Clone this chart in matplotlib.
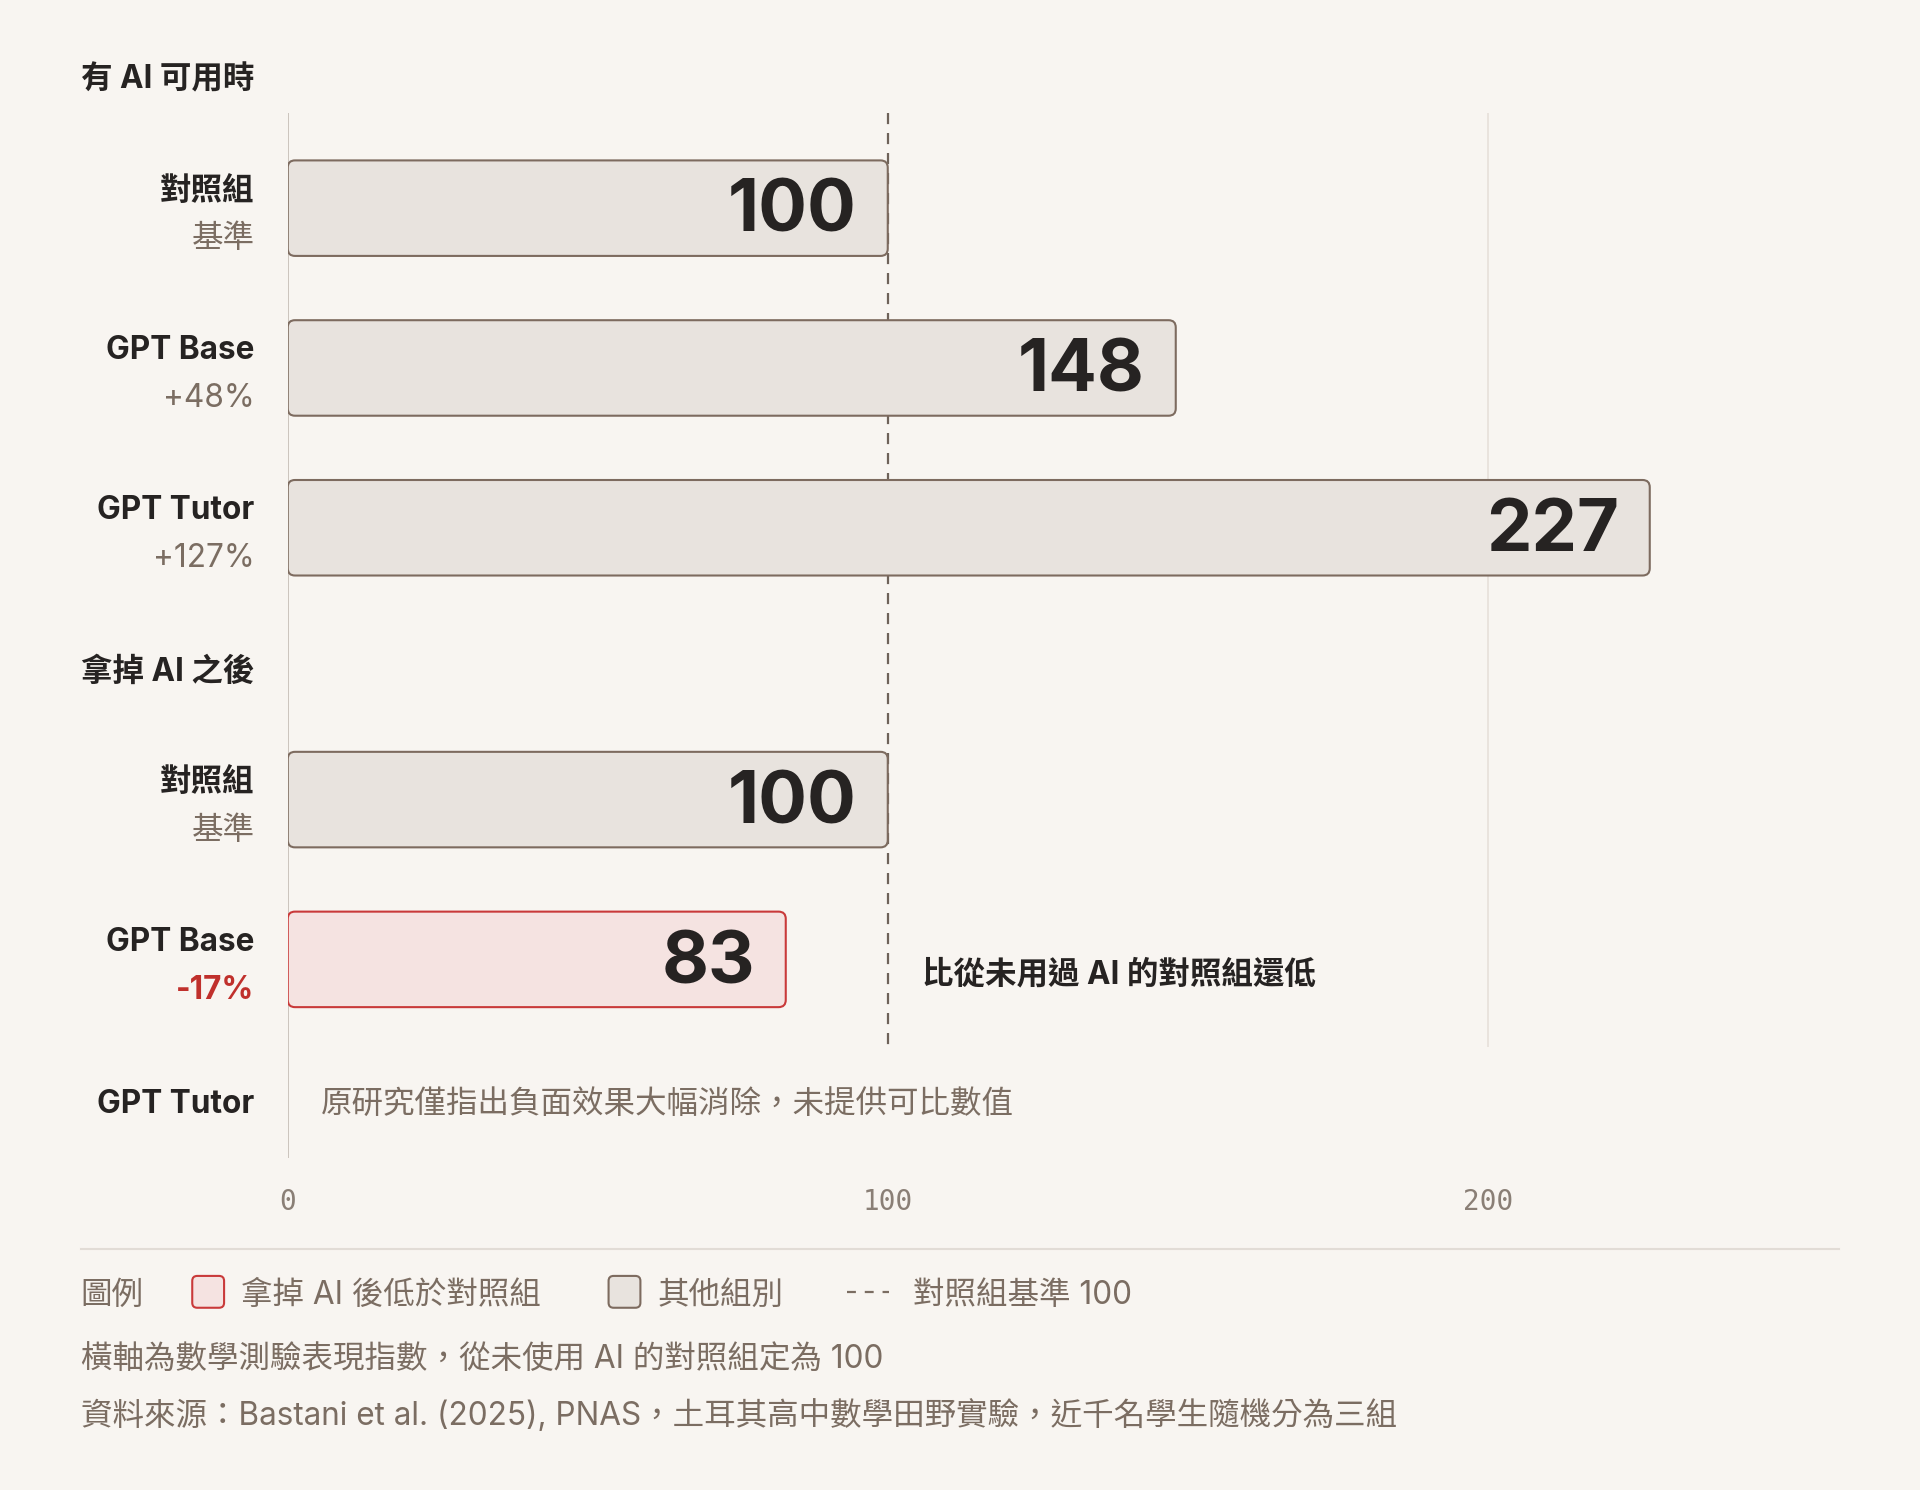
import matplotlib.pyplot as plt
from matplotlib.patches import FancyBboxPatch
from matplotlib.lines import Line2D
from matplotlib.transforms import blended_transform_factory

# data
section_titles = ['有 AI 可用時', '拿掉 AI 之後']
groups = ['對照組', 'GPT Base', 'GPT Tutor']
sub_with_ai = ['基準', '+48%', '+127%']
values_with_ai = [100, 148, 227]
sub_without_ai = ['基準', '-17%', '']
values_without_ai = [100, 83, None]
baseline = 100
x_ticks = [0, 100, 200]
tutor_note = '原研究僅指出負面效果大幅消除，未提供可比數值'
low_note = '比從未用過 AI 的對照組還低'
legend_title = '圖例'
legend_labels = ['拿掉 AI 後低於對照組', '其他組別', '對照組基準 100']
footnotes = ['橫軸為數學測驗表現指數，從未使用 AI 的對照組定為 100',
             '資料來源：Bastani et al. (2025), PNAS，土耳其高中數學田野實驗，近千名學生隨機分為三組']

# style
BG = '#f8f5f1'
INK = '#262322'
MUTED = '#7b6d62'
BAR_FILL = '#e8e3de'
BAR_EDGE = '#7d6b5f'
RED_FILL = '#f5e3e1'
RED_EDGE = '#c93a3a'
RED_TEXT = '#c0302c'
FONTS = ['Inter', 'Noto Sans CJK TC', 'DejaVu Sans']
plt.rcParams['font.family'] = FONTS
FS = 22.7
DY = 3  # text sits a touch lower than centre

W, H = 1920, 1490
S = W / 1568  # layout below measured on a 1568 px wide copy


def fx(d):
    return d / 1568


def fy(d):
    return 1 - d * S / H


fig = plt.figure(figsize=(W / 100, H / 100), dpi=100, facecolor=BG)
ax = fig.add_axes([fx(235), fy(946), fx(1502) - fx(235), fy(92) - fy(946)])
ax.set_facecolor(BG)
ax.set_xlim(0, (1502 - 235) / 4.9)
ax.set_ylim(946, 92)  # y in layout px, top to bottom
for s in ax.spines.values():
    s.set_visible(False)
ax.set_yticks([])
ax.set_xticks(x_ticks)
ax.set_xticklabels([str(t) for t in x_ticks], family='DejaVu Sans Mono',
                   fontsize=20, color='#8a7f76')
ax.tick_params(axis='x', length=0, pad=21)

# layout of rows
row_h = 78
rows_top = [170, 300.5, 431]
rows_bottom = [653, 783.5, 899]
header_y = [62, 546]
grid_bottom = 855

ax.axvline(0, color='#c4bcb4', lw=1.2, zorder=1)
ax.vlines(200, 92, grid_bottom, color='#e6e0da', lw=1.2, zorder=0)
ax.vlines(baseline, 92, grid_bottom, color='#6e6259', lw=1.6,
          linestyles=(0, (5, 4)), zorder=1)

px_per_x = 4.9 * S
aspect = px_per_x / S
lab_tr = blended_transform_factory(fig.transFigure, ax.transData)


def draw_bar(yc, v):
    low = v < baseline
    box = FancyBboxPatch((0, yc - row_h / 2), v, row_h,
                         boxstyle='round,pad=0,rounding_size=1.2',
                         mutation_aspect=aspect,
                         fc=RED_FILL if low else BAR_FILL,
                         ec=RED_EDGE if low else BAR_EDGE, lw=1.5, zorder=3)
    ax.add_patch(box)
    ax.annotate(str(v), (v, yc + DY), xytext=(-31, -1), textcoords='offset pixels',
                ha='right', va='center', fontsize=52, fontweight='bold',
                color=INK, zorder=4)


def draw_label(yc, name, sub, red=False):
    yc = yc + DY
    if sub:
        ax.text(fx(208), yc - 17, name, transform=lab_tr, ha='right', va='center',
                fontsize=FS, fontweight='bold', color=INK)
        ax.text(fx(208), yc + 22, sub, transform=lab_tr, ha='right', va='center',
                fontsize=FS, fontweight='bold' if red else 'normal',
                color=RED_TEXT if red else MUTED)
    else:
        ax.text(fx(208), yc, name, transform=lab_tr, ha='right', va='center',
                fontsize=FS, fontweight='bold', color=INK)


for t, y in zip(section_titles, header_y):
    fig.text(fx(66), fy(y + DY), t, ha='left', va='center', fontsize=FS,
             fontweight='bold', color=INK)

for yc, name, sub, v in zip(rows_top, groups, sub_with_ai, values_with_ai):
    draw_bar(yc, v)
    draw_label(yc, name, sub)

for yc, name, sub, v in zip(rows_bottom, groups, sub_without_ai, values_without_ai):
    if v is None:
        draw_label(yc, name, '')
        ax.annotate(tutor_note, (0, yc + DY), xytext=(33, 0), textcoords='offset pixels',
                    ha='left', va='center', fontsize=FS, color=MUTED)
        continue
    draw_bar(yc, v)
    draw_label(yc, name, sub, red=v < baseline)
    if v < baseline:
        ax.annotate(low_note, (baseline, yc + 10 + DY), xytext=(34, 0),
                    textcoords='offset pixels', ha='left', va='center',
                    fontsize=FS, fontweight='bold', color=INK)

# separator
fig.add_artist(Line2D([fx(66), fx(1502)], [fy(1020), fy(1020)],
                      transform=fig.transFigure, color='#e2dcd6', lw=1.5))

# legend
ly = fy(1055 + DY)
fig.text(fx(66), ly, legend_title, ha='left', va='center', fontsize=FS, color=MUTED)


def legend_box(x0, fc, ec):
    size = 26 * S / 100
    box = FancyBboxPatch((x0 * S / 100, (H - 1068 * S) / 100), size, size,
                         boxstyle='round,pad=0,rounding_size=0.05',
                         transform=fig.dpi_scale_trans, fc=fc, ec=ec, lw=1.5)
    fig.add_artist(box)


legend_box(157, RED_FILL, RED_EDGE)
fig.text(fx(197), ly, legend_labels[0], ha='left', va='center', fontsize=FS, color=MUTED)
legend_box(497, BAR_FILL, BAR_EDGE)
fig.text(fx(537), ly, legend_labels[1], ha='left', va='center', fontsize=FS, color=MUTED)
fig.add_artist(Line2D([fx(692), fx(726)], [fy(1055), fy(1055)], transform=fig.transFigure,
                      color=MUTED, lw=1.6, linestyle=(0, (4, 4))))
fig.text(fx(746), ly, legend_labels[2], ha='left', va='center', fontsize=FS, color=MUTED)

# footnotes
fig.text(fx(66), fy(1107 + DY), footnotes[0], ha='left', va='center', fontsize=FS, color=MUTED)
fig.text(fx(66), fy(1153 + DY), footnotes[1], ha='left', va='center', fontsize=FS, color=MUTED)

fig.savefig('out.png', dpi=100, facecolor=BG)
